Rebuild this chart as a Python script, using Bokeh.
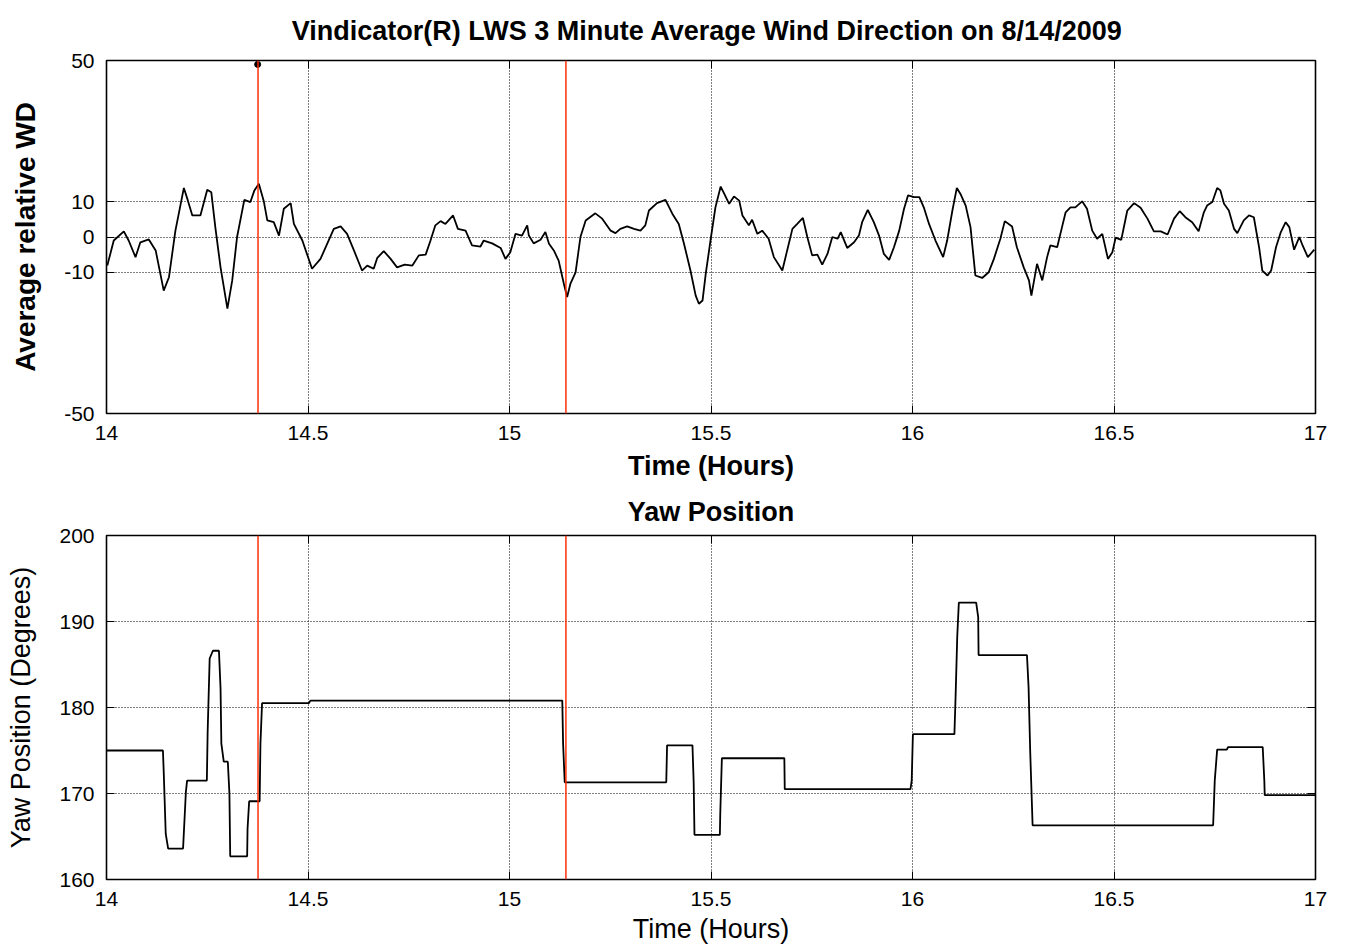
from bokeh.plotting import figure
from bokeh.models import FixedTicker, BoxAnnotation, Title, LinearAxis, Range1d, CustomLabelingPolicy
from bokeh.layouts import column
from bokeh.embed import file_html
from bokeh.resources import INLINE

# ---------------- data ----------------
wd_time = [14.002, 14.018, 14.043, 14.055, 14.072, 14.084, 14.105, 14.122, 14.142, 14.155,
           14.171, 14.192, 14.202, 14.213, 14.233, 14.250, 14.260, 14.270, 14.283, 14.300,
           14.312, 14.324, 14.342, 14.357, 14.367, 14.378, 14.390, 14.399, 14.415, 14.428,
           14.440, 14.457, 14.465, 14.486, 14.510, 14.531, 14.564, 14.581, 14.597, 14.614,
           14.634, 14.647, 14.663, 14.672, 14.688, 14.705, 14.721, 14.740, 14.759, 14.775,
           14.792, 14.804, 14.816, 14.829, 14.841, 14.860, 14.872, 14.891, 14.907, 14.928,
           14.936, 14.957, 14.978, 14.990, 15.002, 15.015, 15.031, 15.044, 15.048, 15.060,
           15.077, 15.089, 15.098, 15.110, 15.122, 15.135, 15.143, 15.151, 15.164, 15.176,
           15.189, 15.213, 15.230, 15.251, 15.263, 15.275, 15.292, 15.309, 15.325, 15.337,
           15.346, 15.366, 15.387, 15.404, 15.420, 15.433, 15.449, 15.462, 15.470, 15.479,
           15.487, 15.500, 15.511, 15.524, 15.533, 15.545, 15.557, 15.570, 15.578, 15.594,
           15.602, 15.615, 15.627, 15.643, 15.656, 15.677, 15.689, 15.702, 15.714, 15.728,
           15.739, 15.751, 15.764, 15.776, 15.789, 15.801, 15.814, 15.822, 15.838, 15.855,
           15.867, 15.875, 15.889, 15.904, 15.917, 15.929, 15.942, 15.954, 15.967, 15.979,
           15.989, 16.004, 16.017, 16.028, 16.041, 16.057, 16.076, 16.086, 16.099, 16.110,
           16.119, 16.132, 16.144, 16.156, 16.173, 16.189, 16.202, 16.218, 16.229, 16.247,
           16.259, 16.276, 16.289, 16.295, 16.309, 16.322, 16.334, 16.342, 16.359, 16.371,
           16.380, 16.392, 16.404, 16.421, 16.433, 16.446, 16.458, 16.471, 16.485, 16.496,
           16.504, 16.518, 16.533, 16.550, 16.566, 16.583, 16.599, 16.616, 16.633, 16.649,
           16.663, 16.677, 16.694, 16.710, 16.723, 16.731, 16.744, 16.756, 16.764, 16.773,
           16.785, 16.798, 16.806, 16.822, 16.835, 16.847, 16.860, 16.868, 16.881, 16.890,
           16.902, 16.914, 16.926, 16.935, 16.947, 16.960, 16.968, 16.981, 16.997]
wd_value = [-8.1, -1.0, 1.6, -1.0, -5.7, -1.5, -0.7, -3.8, -15.2, -11.4,
            1.8, 13.9, 10.3, 6.1, 6.1, 13.4, 12.7, 2.8, -8.6, -20.3,
            -12.3, 0.0, 10.5, 9.9, 13.2, 15.1, 10.3, 4.7, 4.2, 0.4,
            8.0, 9.6, 3.7, -1.0, -9.0, -6.2, 2.3, 3.0, 0.9, -3.8,
            -9.5, -8.1, -9.0, -5.9, -4.0, -6.2, -8.6, -7.8, -8.1, -5.2,
            -5.0, -1.0, 3.3, 4.5, 3.7, 6.1, 2.3, 1.8, -2.4, -2.7,
            -1.0, -1.8, -3.1, -6.2, -4.3, 0.9, 0.4, 3.3, 0.4, -1.8,
            -0.8, 1.4, -1.9, -3.8, -6.7, -13.3, -17.0, -13.3, -10.0, 0.0,
            4.7, 6.7, 5.2, 1.8, 1.1, 2.3, 3.0, 2.3, 1.8, 3.3,
            7.5, 9.6, 10.5, 6.6, 3.7, -1.9, -9.5, -16.6, -18.9, -18.0,
            -10.4, 0.0, 8.4, 14.3, 12.2, 9.4, 11.5, 10.3, 6.1, 3.3,
            4.9, 0.9, 1.8, -0.5, -5.7, -9.5, -3.8, 2.3, 3.7, 5.4,
            0.0, -5.2, -5.0, -7.8, -4.8, 0.0, -0.5, 1.4, -3.1, -1.5,
            0.4, 4.2, 7.7, 4.2, 0.4, -4.8, -6.5, -2.9, 1.8, 8.0,
            11.8, 11.3, 11.3, 8.4, 3.7, -1.0, -5.7, -1.0, 7.5, 13.9,
            12.2, 8.9, 2.8, -10.9, -11.6, -10.0, -6.2, -0.5, 4.5, 3.0,
            -2.9, -8.6, -12.3, -16.6, -7.6, -12.3, -5.7, -2.4, -2.9, 2.8,
            7.0, 8.4, 8.4, 10.1, 8.0, 1.8, -0.5, 0.9, -6.2, -4.3,
            -0.2, -0.8, 7.5, 9.6, 8.3, 5.2, 1.6, 1.6, 0.7, 5.2,
            7.3, 5.6, 4.2, 1.6, 7.0, 8.9, 9.9, 13.9, 13.2, 9.4,
            7.5, 2.3, 1.1, 4.7, 6.1, 5.6, -2.9, -9.5, -10.9, -9.5,
            -2.9, 1.4, 4.2, 2.8, -3.6, 0.0, -2.4, -5.7, -3.6]

marker_time = [14.375]
marker_value = [48.9]

yaw_time = [14.0, 14.140, 14.142, 14.147, 14.153, 14.190, 14.197, 14.200, 14.249, 14.251,
            14.256, 14.264, 14.279, 14.283, 14.285, 14.291, 14.301, 14.305, 14.307, 14.349,
            14.350, 14.354, 14.380, 14.382, 14.386, 14.502, 14.506, 15.131, 15.133, 15.137,
            15.389, 15.391, 15.454, 15.457, 15.459, 15.522, 15.523, 15.527, 15.682, 15.683,
            15.995, 15.998, 16.001, 16.104, 16.107, 16.111, 16.115, 16.158, 16.163, 16.164,
            16.284, 16.288, 16.292, 16.298, 16.746, 16.750, 16.756, 16.780, 16.783, 16.869,
            16.873, 16.874, 17.0]
yaw_value = [175.0, 175.0, 172.5, 165.3, 163.6, 163.6, 170.2, 171.5, 171.5, 177.2,
             185.7, 186.6, 186.6, 182.2, 175.8, 173.7, 173.7, 170.0, 162.7, 162.7,
             165.9, 169.1, 169.1, 175.8, 180.5, 180.5, 180.8, 180.8, 175.8, 171.3,
             171.3, 175.6, 175.6, 171.3, 165.2, 165.2, 167.7, 174.1, 174.1, 170.5,
             170.5, 171.5, 176.9, 176.9, 181.4, 188.2, 192.2, 192.2, 190.5, 186.1,
             186.1, 182.4, 175.0, 166.3, 166.3, 171.5, 175.1, 175.1, 175.4, 175.4,
             171.5, 169.8, 169.8]

event_times = [14.376, 15.140]

x_ticks = [14, 14.5, 15, 15.5, 16, 16.5, 17]
x_tick_labels = ["14", "14.5", "15", "15.5", "16", "16.5", "17"]
top_y_ticks = [-50, -10, 0, 10, 50]
top_y_tick_labels = ["-50", "-10", "0", "10", "50"]
bot_y_ticks = [160, 170, 180, 190, 200]

title_text = "Vindicator(R) LWS 3 Minute Average Wind Direction  on 8/14/2009"

FONT = "Liberation Sans"
RED = "#ff2a00"

NO_LABELS = "const all = [...indices]; for (const i of all) { indices.unset(i) } return indices"


def style_axis(ax, ticks, labels=None, show_labels=True):
    ax.ticker = FixedTicker(ticks=ticks)
    if labels is not None:
        ax.major_label_overrides = {t: l for t, l in zip(ticks, labels)}
    ax.major_tick_in = 8
    ax.major_tick_out = 0
    ax.minor_tick_in = 0
    ax.minor_tick_out = 0
    ax.major_tick_line_color = "black"
    ax.major_tick_line_width = 1
    ax.axis_line_color = None
    ax.major_label_text_font = FONT
    ax.major_label_text_color = "black"
    ax.major_label_text_font_size = "21px"
    ax.major_label_standoff = 12
    if not show_labels:
        # tick marks only (box axes on the right / top)
        ax.major_label_policy = CustomLabelingPolicy(code=NO_LABELS)
        ax.major_label_text_font_size = "1px"
        ax.major_label_standoff = 0


def style_fig(p):
    p.outline_line_color = "black"
    p.outline_line_width = 1.6
    p.outline_line_alpha = 1.0
    p.background_fill_color = "white"
    p.border_fill_color = "white"
    for g in (p.xgrid, p.ygrid):
        g.grid_line_color = "black"
        g.grid_line_dash = "1 2"
        g.grid_line_width = 1
        g.grid_line_alpha = 1.0


# ---------------- top panel ----------------
top = figure(width=1338, height=488, x_range=Range1d(14, 17), y_range=Range1d(-50, 50),
             output_backend="svg", toolbar_location=None,
             min_border_left=106, min_border_right=23, min_border_top=60, min_border_bottom=75)
style_fig(top)
style_axis(top.xaxis[0], x_ticks, x_tick_labels)
style_axis(top.yaxis[0], top_y_ticks, top_y_tick_labels)
top.xgrid.ticker = FixedTicker(ticks=x_ticks)
top.ygrid.ticker = FixedTicker(ticks=top_y_ticks)
top.xaxis.axis_label = "Time (Hours)"
top.yaxis.axis_label = "Average relative WD"
for ax in (top.xaxis[0], top.yaxis[0]):
    ax.axis_label_text_font = FONT
    ax.axis_label_text_font_style = "bold"
    ax.axis_label_text_color = "black"
top.xaxis.axis_label_text_font_size = "27px"
top.yaxis.axis_label_text_font_size = "28px"
top.xaxis.axis_label_standoff = 8
top.yaxis.axis_label_standoff = 20

ra = LinearAxis()
style_axis(ra, top_y_ticks, show_labels=False)
top.add_layout(ra, "right")
aa = LinearAxis()
style_axis(aa, x_ticks, show_labels=False)
top.add_layout(aa, "above")

top.add_layout(Title(text=title_text, align="center", text_font=FONT, standoff=22,
                     text_font_style="bold", text_font_size="27px", text_color="black"), "above")

top.line(wd_time, wd_value, line_color="black", line_width=1.8)
top.scatter(marker_time, marker_value, size=6, color="black")

for t in event_times:
    top.add_layout(BoxAnnotation(left=t - 0.0018, right=t + 0.0018,
                                 fill_color=RED, fill_alpha=1.0, line_color=None))

# ---------------- bottom panel ----------------
bot = figure(width=1338, height=458, x_range=Range1d(14, 17), y_range=Range1d(160, 200),
             output_backend="svg", toolbar_location=None,
             min_border_left=106, min_border_right=23, min_border_top=47, min_border_bottom=61)
style_fig(bot)
style_axis(bot.xaxis[0], x_ticks, x_tick_labels)
style_axis(bot.yaxis[0], bot_y_ticks)
bot.xgrid.ticker = FixedTicker(ticks=x_ticks)
bot.ygrid.ticker = FixedTicker(ticks=bot_y_ticks)
bot.xaxis.axis_label = "Time (Hours)"
bot.yaxis.axis_label = "Yaw Position (Degrees)"
for ax in (bot.xaxis[0], bot.yaxis[0]):
    ax.axis_label_text_font = FONT
    ax.axis_label_text_font_style = "normal"
    ax.axis_label_text_font_size = "27px"
    ax.axis_label_text_color = "black"
bot.xaxis.axis_label_standoff = 5
bot.yaxis.axis_label_standoff = 20

ra2 = LinearAxis()
style_axis(ra2, bot_y_ticks, show_labels=False)
bot.add_layout(ra2, "right")
aa2 = LinearAxis()
style_axis(aa2, x_ticks, show_labels=False)
bot.add_layout(aa2, "above")

bot.add_layout(Title(text="Yaw Position", align="center", text_font=FONT, standoff=10,
                     text_font_style="bold", text_font_size="27px", text_color="black"), "above")

bot.line(yaw_time, yaw_value, line_color="black", line_width=1.8)

for t in event_times:
    bot.add_layout(BoxAnnotation(left=t - 0.0018, right=t + 0.0018,
                                 fill_color=RED, fill_alpha=1.0, line_color=None))

layout = column(top, bot, spacing=0)
open("out.html", "w").write(file_html(layout, INLINE))
